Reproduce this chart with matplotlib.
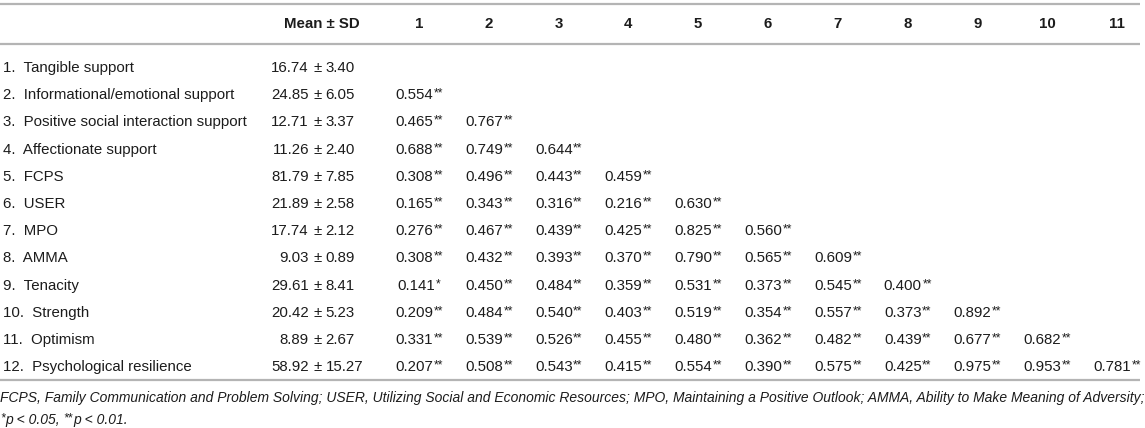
import matplotlib
matplotlib.use('Agg')
import matplotlib.pyplot as plt

plt.rcParams['font.family'] = ['Liberation Sans', 'DejaVu Sans']

variables = ['Tangible support', 'Informational/emotional support',
             'Positive social interaction support', 'Affectionate support',
             'FCPS', 'USER', 'MPO', 'AMMA', 'Tenacity', 'Strength',
             'Optimism', 'Psychological resilience']
means = ['16.74', '24.85', '12.71', '11.26', '81.79', '21.89', '17.74',
         '9.03', '29.61', '20.42', '8.89', '58.92']
sds = ['3.40', '6.05', '3.37', '2.40', '7.85', '2.58', '2.12', '0.89',
       '8.41', '5.23', '2.67', '15.27']
col_labels = ['1', '2', '3', '4', '5', '6', '7', '8', '9', '10', '11']

# lower triangle, row i holds correlations with variables 1..i-1
corr = [
    [],
    ['0.554'],
    ['0.465', '0.767'],
    ['0.688', '0.749', '0.644'],
    ['0.308', '0.496', '0.443', '0.459'],
    ['0.165', '0.343', '0.316', '0.216', '0.630'],
    ['0.276', '0.467', '0.439', '0.425', '0.825', '0.560'],
    ['0.308', '0.432', '0.393', '0.370', '0.790', '0.565', '0.609'],
    ['0.141', '0.450', '0.484', '0.359', '0.531', '0.373', '0.545', '0.400'],
    ['0.209', '0.484', '0.540', '0.403', '0.519', '0.354', '0.557', '0.373', '0.892'],
    ['0.331', '0.539', '0.526', '0.455', '0.480', '0.362', '0.482', '0.439', '0.677', '0.682'],
    ['0.207', '0.508', '0.543', '0.415', '0.554', '0.390', '0.575', '0.425', '0.975', '0.953', '0.781'],
]
stars = [['**'] * len(r) for r in corr]
stars[8][0] = '*'

footnote = ('FCPS, Family Communication and Problem Solving; USER, Utilizing Social '
            'and Economic Resources; MPO, Maintaining a Positive Outlook; AMMA, '
            'Ability to Make Meaning of Adversity;')

W, H = 1145, 428
fig = plt.figure(figsize=(W / 100, H / 100), dpi=100)
ax = fig.add_axes([0, 0, 1, 1])
ax.set_xlim(0, W)
ax.set_ylim(H, 0)
ax.axis('off')
renderer = fig.canvas.get_renderer()

FS = 10.8
SFS = FS * 0.8
NFS = 10.0
TXT = '#1c1c1c'
LINE = '#b4b4b4'


def width(t):
    bb = t.get_window_extent(renderer=renderer)
    return bb.width


for y in [4, 44, 380]:
    ax.plot([0, 1140], [y, y], color=LINE, lw=1.6, solid_capstyle='butt')

# header
y_head = 24
ax.text(322, y_head, 'Mean \u00b1 SD', ha='center', va='center', fontsize=FS,
        fontweight='bold', color=TXT)
col_x0, col_dx = 419, 69.8
for j, lab in enumerate(col_labels):
    ax.text(col_x0 + j * col_dx, y_head, lab, ha='center', va='center',
            fontsize=FS, fontweight='bold', color=TXT)

row_y0, row_dy = 68, 27.2
for i, name in enumerate(variables):
    y = row_y0 + i * row_dy
    ax.text(3, y, '%d.  %s' % (i + 1, name), ha='left', va='center',
            fontsize=FS, color=TXT)
    ax.text(309, y, means[i], ha='right', va='center', fontsize=FS, color=TXT)
    ax.text(317.5, y, '\u00b1', ha='center', va='center', fontsize=FS, color=TXT)
    ax.text(325.5, y, sds[i], ha='left', va='center', fontsize=FS, color=TXT)
    for j, val in enumerate(corr[i]):
        xc = col_x0 + j * col_dx
        t1 = ax.text(0, y, val, ha='left', va='center', fontsize=FS, color=TXT)
        t2 = ax.text(0, y - 1.5, stars[i][j], ha='left', va='center',
                     fontsize=SFS, color=TXT)
        w1, w2 = width(t1), width(t2)
        left = xc - (w1 + w2) / 2
        t1.set_x(left)
        t2.set_x(left + w1 + 0.5)

# footnotes
ax.text(0, 398, footnote, ha='left', va='center', fontsize=NFS,
        style='italic', color=TXT)
x = 0
runs = [('*', SFS, -1.5), ('p < 0.05,', NFS, 0), ('**', SFS, -1.5),
        ('p < 0.01.', NFS, 0)]
for s, fs, dy in runs:
    t = ax.text(x, 420 + dy, s, ha='left', va='center', fontsize=fs,
                style='italic', color=TXT)
    x += width(t) + (4 if s.endswith(',') else 0.5)

fig.savefig('out.png', dpi=100)
